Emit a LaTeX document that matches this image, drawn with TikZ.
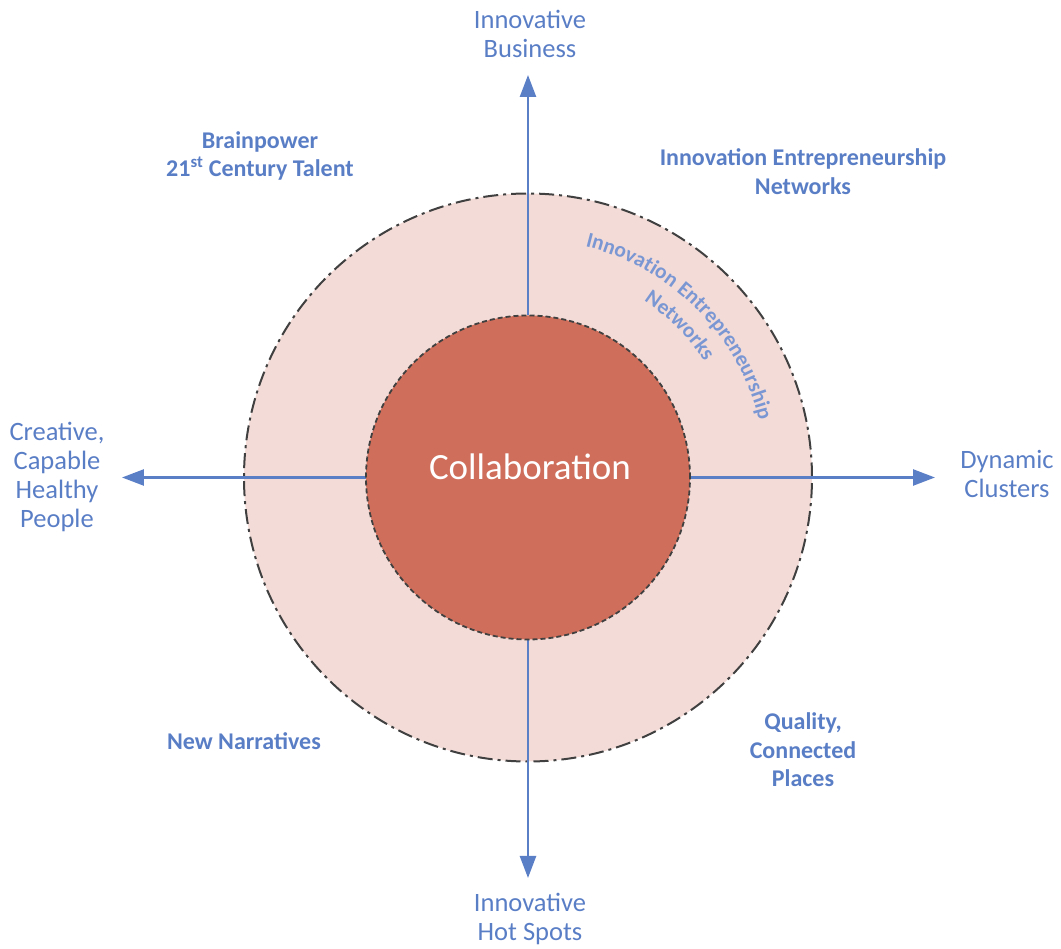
\documentclass[tikz,border=0pt]{standalone}
\usepackage{fontspec}
\setmainfont{Carlito}
\usetikzlibrary{arrows.meta,decorations.text}
\definecolor{lbl}{HTML}{5A7EC6}
\definecolor{arrc}{HTML}{5B7FC7}
\definecolor{curv}{HTML}{7B97D3}
\definecolor{ringfill}{HTML}{F3DCD8}
\definecolor{corefill}{HTML}{CF6E5B}
\definecolor{edge}{HTML}{404040}
\tikzset{
  lab/.style={text=lbl, align=center, font=\fontsize{26.5}{29}\selectfont},
  blab/.style={text=lbl, align=center, font=\fontsize{24}{28.5}\selectfont\bfseries},
  arr/.style={draw=arrc, line width=2.5pt, -{Triangle[length=22pt,width=16pt]}},
  ringstyle/.style={circle, fill=ringfill, draw=edge, line width=2pt, dash pattern=on 15pt off 5pt on 3pt off 5pt, minimum size=568pt, inner sep=0pt},
  corestyle/.style={circle, fill=corefill, draw=edge, line width=1.8pt, dash pattern=on 5pt off 3pt, minimum size=324pt, inner sep=0pt}
}
\begin{document}
\begin{tikzpicture}[x=1pt,y=1pt]
\useasboundingbox (-528,-471.5) rectangle (533,477.5);
\node[ringstyle] (outer) at (0,0) {};
% curved text
\path[decorate, decoration={text along path, text align=center,
  text={|\fontsize{21.5}{21.5}\selectfont\bfseries\color{curv}|Innovation Entrepreneurship}}]
  (90:238) arc[start angle=90, end angle=0, radius=238];
\path[decorate, decoration={text along path, text align=center,
  text={|\fontsize{21.5}{21.5}\selectfont\bfseries\color{curv}|Networks}}]
  (90:211) arc[start angle=90, end angle=0, radius=211];
\coordinate (tN) at (0,402.5);
\coordinate (tS) at (0,-400.5);
\coordinate (tW) at (-406,0);
\coordinate (tE) at (407,0);
\coordinate (c0) at (0,0);
\draw[arr] (c0) ++(0,162) -- (tN);
\draw[arr] (c0) ++(0,-162) -- (tS);
\draw[arr] (c0) ++(-162,0) -- (tW);
\draw[arr] (c0) ++(162,0) -- (tE);
\node[corestyle] (inner) at (0,0) {};
\node[text=white, font=\fontsize{37}{40}\selectfont] (collab) at (2,10.5) {Collaboration};
\node[lab] (ib) at (2,444) {Innovative\\Business};
\node[lab] (hs) at (2,-441) {Innovative\\Hot Spots};
\node[lab] (cr) at (-471,1) {Creative,\\Capable\\Healthy\\People};
\node[lab] (dc) at (479,3.5) {Dynamic\\Clusters};
\node[blab] (bp) at (-268,321.5) {Brainpower\\21\textsuperscript{st} Century Talent};
\node[blab] (ien) at (275,306) {Innovation Entrepreneurship\\Networks};
\node[blab] (nn) at (-284,-263.5) {New Narratives};
\node[blab] (qc) at (275,-272.5) {Quality,\\Connected\\Places};
\end{tikzpicture}
\end{document}
